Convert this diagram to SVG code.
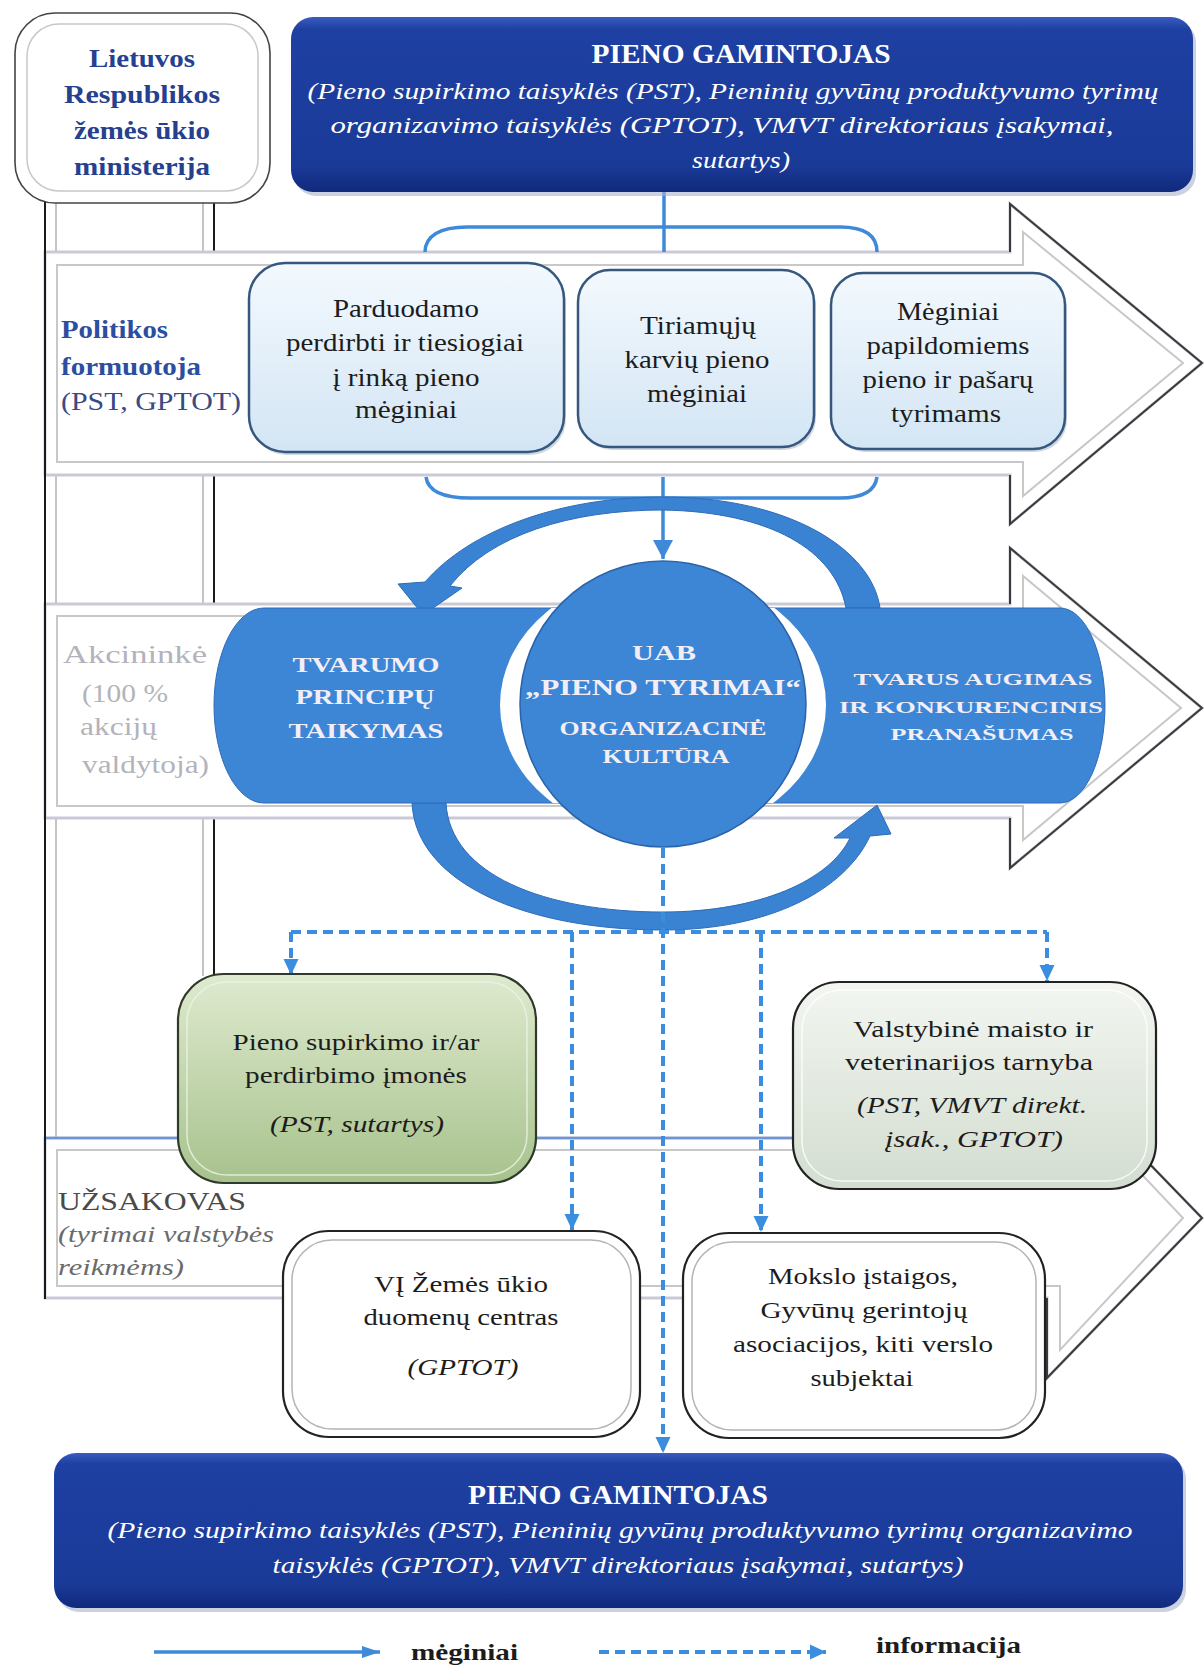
<svg xmlns="http://www.w3.org/2000/svg" width="1204" height="1667" viewBox="0 0 1204 1667">
<defs>
<style>
text{font-family:"Liberation Serif","Times New Roman",serif}
.b{font-weight:bold}
.i{font-style:italic}
.m{text-anchor:middle}
.dk{fill:#1c1c1c}
.w{fill:#ffffff}
.pt{fill:#f3eef6;font-weight:bold}
.lane{fill:#ffffff;stroke:#c9c9d8;stroke-width:3}
.head{fill:none;stroke:#3a3a3a;stroke-width:2}
.inner{fill:none;stroke:#c8c8c8;stroke-width:2}
.sol{fill:none;stroke:#3f8ad8;stroke-width:3.5}
.dsh{fill:none;stroke:#3b8de0;stroke-width:4;stroke-dasharray:10 6}
.blue{fill:#3d85d5}
.arc{fill:#3a83d3;stroke:#2d6bb8;stroke-width:1}
.lb{fill:url(#gLB);stroke:#36587f;stroke-width:2.5}
.wb{fill:#ffffff;stroke:#222222;stroke-width:2.2}
.wi{fill:none;stroke:#b4b4b4;stroke-width:1.5}
.col{stroke:#1a1a1a;stroke-width:2;fill:none}
.colg{stroke:#c4c4c4;stroke-width:2;fill:none}
</style>
<linearGradient id="gDark" x1="0" y1="0" x2="0" y2="1">
<stop offset="0" stop-color="#3a5cc0"/>
<stop offset="0.07" stop-color="#1e40a2"/>
<stop offset="0.85" stop-color="#1a3a98"/>
<stop offset="1" stop-color="#10297a"/>
</linearGradient>
<linearGradient id="gLB" x1="0" y1="0" x2="0" y2="1">
<stop offset="0" stop-color="#f3f9fe"/>
<stop offset="1" stop-color="#d3e5f4"/>
</linearGradient>
<linearGradient id="gGreen" x1="0" y1="0" x2="0" y2="1">
<stop offset="0" stop-color="#dfeacf"/>
<stop offset="1" stop-color="#a7c28d"/>
</linearGradient>
<linearGradient id="gVal" x1="0" y1="0" x2="0" y2="1">
<stop offset="0" stop-color="#f3f6f1"/>
<stop offset="1" stop-color="#d3ddd0"/>
</linearGradient>
<marker id="ah" markerUnits="userSpaceOnUse" markerWidth="18" markerHeight="18" viewBox="0 0 18 18" refX="16" refY="9" orient="auto">
<path d="M0,1.5 L16,9 L0,16.5 Z" fill="#3b8de0"/>
</marker>
<marker id="as" markerUnits="userSpaceOnUse" markerWidth="22" markerHeight="22" viewBox="0 0 22 22" refX="19" refY="11" orient="auto">
<path d="M0,1 L19,11 L0,21 Z" fill="#3f8ad8"/>
</marker>
<marker id="al" markerUnits="userSpaceOnUse" markerWidth="20" markerHeight="16" viewBox="0 0 20 16" refX="18" refY="8" orient="auto">
<path d="M0,2 L18,8 L0,14 Z" fill="#3f8ad8"/>
</marker>
<clipPath id="band"><rect x="200" y="608" width="920" height="195"/></clipPath>
</defs>

<rect x="0" y="0" width="1204" height="1667" fill="#ffffff"/>

<!-- column behind lanes -->
<g id="ministry-column">
<line class="col" x1="214" y1="195" x2="214" y2="976"/>
<line class="colg" x1="203" y1="195" x2="203" y2="976"/>
<line class="colg" x1="56" y1="195" x2="56" y2="1286"/>
</g>

<!-- lanes -->
<g id="lane-politikos">
<path class="lane" d="M45,252 L1010,252 L1010,204 L1202,363 L1010,524 L1010,475 L45,475 Z"/>
<path class="inner" d="M57,265 L1023,265 L1023,232 L1183,363 L1023,496 L1023,462 L57,462 Z"/>
<path class="head" d="M1010,252 L1010,204 L1202,363 L1010,524 L1010,475"/>
<text x="61" y="338" class="b" font-size="25" fill="#2b4ea0" textLength="107" lengthAdjust="spacingAndGlyphs">Politikos</text>
<text x="61" y="375" class="b" font-size="25" fill="#2b4ea0" textLength="140" lengthAdjust="spacingAndGlyphs">formuotoja</text>
<text x="61" y="410" font-size="25" fill="#3a4a82" textLength="180" lengthAdjust="spacingAndGlyphs">(PST, GPTOT)</text>
</g>

<g id="lane-akcininke">
<path class="lane" d="M45,604 L1010,604 L1010,548 L1202,708 L1010,868 L1010,818 L45,818 Z"/>
<path class="inner" d="M57,616 L1023,616 L1023,576 L1181,708 L1023,840 L1023,806 L57,806 Z"/>
<path class="head" d="M1010,604 L1010,548 L1202,708 L1010,868 L1010,818"/>
<text x="63" y="663" font-size="25" fill="#b3b3bb" textLength="144" lengthAdjust="spacingAndGlyphs">Akcininkė</text>
<text x="82" y="702" font-size="25" fill="#b3b3bb" textLength="86" lengthAdjust="spacingAndGlyphs">(100 %</text>
<text x="80" y="735" font-size="25" fill="#b3b3bb" textLength="77" lengthAdjust="spacingAndGlyphs">akcijų</text>
<text x="82" y="773" font-size="25" fill="#b3b3bb" textLength="127" lengthAdjust="spacingAndGlyphs">valdytoja)</text>
</g>

<g id="lane-uzsakovas">
<path class="lane" d="M45,1138 L1047,1138 L1047,1058 L1202,1218 L1047,1378 L1047,1298 L45,1298 Z"/>
<path class="inner" d="M57,1150 L1060,1150 L1060,1088 L1183,1218 L1060,1350 L1060,1286 L57,1286 Z"/>
<line x1="45" y1="1138" x2="1047" y2="1138" stroke="#6f95d6" stroke-width="2.5"/>
<path class="head" d="M1047,1138 L1047,1058 L1202,1218 L1047,1378 L1047,1298"/>
<text x="58" y="1210" font-size="25" fill="#4a4a4a" textLength="188" lengthAdjust="spacingAndGlyphs">UŽSAKOVAS</text>
<text x="58" y="1242" class="i" font-size="24" fill="#6a6a6a" textLength="216" lengthAdjust="spacingAndGlyphs">(tyrimai valstybės</text>
<text x="58" y="1275" class="i" font-size="24" fill="#6a6a6a" textLength="126" lengthAdjust="spacingAndGlyphs">reikmėms)</text>
</g>

<line class="col" x1="45" y1="195" x2="45" y2="1299"/>

<!-- connectors -->
<g id="connectors">
<line class="sol" x1="664" y1="192" x2="664" y2="252"/>
<path class="sol" d="M425,252 C425,236 440,227 467,227 L840,227 C865,227 877,236 877,252"/>
<path class="sol" d="M426,477 C428,492 445,498 470,498 L840,498 C862,498 875,492 877,477"/>
<line class="sol" x1="663" y1="477" x2="663" y2="559" marker-end="url(#as)"/>
<path class="arc" d="M880,608 C872,550 790,497 663,497 C560,497 470,530 425,582 L398,584 L423,615 L462,588 L450,586 C490,535 570,510 663,510 C770,512 835,550 846,608 Z"/>
<path class="arc" d="M412,803 C416,885 530,930 663,930 C770,930 845,890 870,836 L891,834 L877,805 L834,838 L850,838 C830,880 760,912 663,912 C545,912 450,875 446,803 Z"/>
<line class="dsh" x1="663" y1="848" x2="663" y2="1453" marker-end="url(#ah)"/>
<line class="dsh" x1="291" y1="932" x2="1047" y2="932"/>
<line class="dsh" x1="291" y1="932" x2="291" y2="975" marker-end="url(#ah)"/>
<line class="dsh" x1="1047" y1="932" x2="1047" y2="981" marker-end="url(#ah)"/>
<line class="dsh" x1="572" y1="932" x2="572" y2="1230" marker-end="url(#ah)"/>
<line class="dsh" x1="761" y1="932" x2="761" y2="1232" marker-end="url(#ah)"/>
</g>

<!-- nodes -->
<g id="ministerija">
<rect x="15" y="13" width="255" height="190" rx="40" fill="#ffffff" stroke="#444444" stroke-width="1.6"/>
<rect x="27" y="24" width="231" height="167" rx="32" fill="none" stroke="#c8c8c8" stroke-width="1.5"/>
<text x="142" y="67" class="b m" font-size="26" fill="#25408f" textLength="106" lengthAdjust="spacingAndGlyphs">Lietuvos</text>
<text x="142" y="103" class="b m" font-size="26" fill="#25408f" textLength="156" lengthAdjust="spacingAndGlyphs">Respublikos</text>
<text x="142" y="139" class="b m" font-size="26" fill="#25408f" textLength="136" lengthAdjust="spacingAndGlyphs">žemės ūkio</text>
<text x="142" y="175" class="b m" font-size="26" fill="#25408f" textLength="136" lengthAdjust="spacingAndGlyphs">ministerija</text>
</g>

<g id="pieno-gamintojas-top">
<rect x="294" y="21" width="902" height="175" rx="22" fill="#a9b2cc" opacity="0.6"/>
<rect x="291" y="17" width="902" height="175" rx="22" fill="url(#gDark)"/>
<text x="741" y="63" class="b m w" font-size="27" textLength="299" lengthAdjust="spacingAndGlyphs">PIENO GAMINTOJAS</text>
<text x="733" y="99" class="i m w" font-size="24" textLength="851" lengthAdjust="spacingAndGlyphs">(Pieno supirkimo taisyklės (PST), Pieninių gyvūnų produktyvumo tyrimų</text>
<text x="722" y="133" class="i m w" font-size="24" textLength="783" lengthAdjust="spacingAndGlyphs">organizavimo taisyklės (GPTOT), VMVT direktoriaus įsakymai,</text>
<text x="741" y="168" class="i m w" font-size="24" textLength="98" lengthAdjust="spacingAndGlyphs">sutartys)</text>
</g>

<g id="meginiai-parduodamo">
<rect x="251" y="266" width="315" height="189" rx="36" fill="#9fb0c4" opacity="0.5"/>
<rect class="lb" x="249" y="263" width="315" height="189" rx="36"/>
<text x="406" y="317" class="m dk" font-size="25" textLength="146" lengthAdjust="spacingAndGlyphs">Parduodamo</text>
<text x="405" y="351" class="m dk" font-size="25" textLength="238" lengthAdjust="spacingAndGlyphs">perdirbti ir tiesiogiai</text>
<text x="406" y="386" class="m dk" font-size="25" textLength="147" lengthAdjust="spacingAndGlyphs">į rinką pieno</text>
<text x="406" y="418" class="m dk" font-size="25" textLength="102" lengthAdjust="spacingAndGlyphs">mėginiai</text>
</g>

<g id="meginiai-tiriamuju">
<rect x="580" y="273" width="236" height="177" rx="32" fill="#9fb0c4" opacity="0.5"/>
<rect class="lb" x="578" y="270" width="236" height="177" rx="32"/>
<text x="698" y="334" class="m dk" font-size="25" textLength="116" lengthAdjust="spacingAndGlyphs">Tiriamųjų</text>
<text x="697" y="368" class="m dk" font-size="25" textLength="145" lengthAdjust="spacingAndGlyphs">karvių pieno</text>
<text x="697" y="402" class="m dk" font-size="25" textLength="100" lengthAdjust="spacingAndGlyphs">mėginiai</text>
</g>

<g id="meginiai-papildomiems">
<rect x="833" y="276" width="234" height="176" rx="32" fill="#9fb0c4" opacity="0.5"/>
<rect class="lb" x="831" y="273" width="234" height="176" rx="32"/>
<text x="948" y="320" class="m dk" font-size="25" textLength="102" lengthAdjust="spacingAndGlyphs">Mėginiai</text>
<text x="948" y="354" class="m dk" font-size="25" textLength="163" lengthAdjust="spacingAndGlyphs">papildomiems</text>
<text x="948" y="388" class="m dk" font-size="25" textLength="171" lengthAdjust="spacingAndGlyphs">pieno ir pašarų</text>
<text x="946" y="422" class="m dk" font-size="25" textLength="110" lengthAdjust="spacingAndGlyphs">tyrimams</text>
</g>

<g id="tvarumo-principu">
<path class="blue" d="M600,608 L264,608 A50,97.5 0 0 0 264,803 L600,803 Z" stroke="#2f6cb8" stroke-width="1"/>
<text x="366" y="672" class="pt m" font-size="20" textLength="147" lengthAdjust="spacingAndGlyphs">TVARUMO</text>
<text x="365" y="704" class="pt m" font-size="20" textLength="139" lengthAdjust="spacingAndGlyphs">PRINCIPŲ</text>
<text x="366" y="738" class="pt m" font-size="20" textLength="155" lengthAdjust="spacingAndGlyphs">TAIKYMAS</text>
</g>

<g id="tvarus-augimas">
<path class="blue" d="M730,608 L1060,608 A45,97.5 0 0 1 1060,803 L730,803 Z" stroke="#2f6cb8" stroke-width="1"/>
<text x="973" y="685" class="pt m" font-size="17" textLength="239" lengthAdjust="spacingAndGlyphs">TVARUS AUGIMAS</text>
<text x="971" y="713" class="pt m" font-size="17" textLength="264" lengthAdjust="spacingAndGlyphs">IR KONKURENCINIS</text>
<text x="982" y="740" class="pt m" font-size="17" textLength="183" lengthAdjust="spacingAndGlyphs">PRANAŠUMAS</text>
</g>

<g id="uab-pieno-tyrimai">
<ellipse cx="663" cy="705" rx="163" ry="133" fill="#ffffff" clip-path="url(#band)"/>
<circle cx="663" cy="704" r="143" fill="#3d85d5" stroke="#2a63a8" stroke-width="1.5"/>
<text x="664" y="660" class="pt m" font-size="22" textLength="64" lengthAdjust="spacingAndGlyphs">UAB</text>
<text x="663" y="695" class="pt m" font-size="23" textLength="276" lengthAdjust="spacingAndGlyphs">„PIENO TYRIMAI“</text>
<text x="663" y="735" class="pt m" font-size="18" textLength="207" lengthAdjust="spacingAndGlyphs">ORGANIZACINĖ</text>
<text x="666" y="763" class="pt m" font-size="18" textLength="127" lengthAdjust="spacingAndGlyphs">KULTŪRA</text>
</g>

<g id="supirkimo-imones">
<rect x="178" y="974" width="358" height="209" rx="46" fill="url(#gGreen)" stroke="#2f3a2a" stroke-width="2.2"/>
<rect x="187" y="982" width="340" height="193" rx="40" fill="none" stroke="#eef4e6" stroke-width="1.5" opacity="0.8"/>
<text x="356" y="1050" class="m dk" font-size="24" textLength="247" lengthAdjust="spacingAndGlyphs">Pieno supirkimo ir/ar</text>
<text x="356" y="1083" class="m dk" font-size="24" textLength="222" lengthAdjust="spacingAndGlyphs">perdirbimo įmonės</text>
<text x="357" y="1132" class="i m dk" font-size="24" textLength="174" lengthAdjust="spacingAndGlyphs">(PST, sutartys)</text>
</g>

<g id="vmvt">
<rect x="793" y="982" width="363" height="207" rx="46" fill="url(#gVal)" stroke="#222222" stroke-width="2.2"/>
<rect x="802" y="990" width="345" height="191" rx="40" fill="none" stroke="#ffffff" stroke-width="1.5" opacity="0.8"/>
<text x="973" y="1037" class="m dk" font-size="24" textLength="240" lengthAdjust="spacingAndGlyphs">Valstybinė maisto ir</text>
<text x="969" y="1070" class="m dk" font-size="24" textLength="248" lengthAdjust="spacingAndGlyphs">veterinarijos tarnyba</text>
<text x="972" y="1113" class="i m dk" font-size="24" textLength="230" lengthAdjust="spacingAndGlyphs">(PST, VMVT direkt.</text>
<text x="974" y="1147" class="i m dk" font-size="24" textLength="178" lengthAdjust="spacingAndGlyphs">įsak., GPTOT)</text>
</g>

<g id="vi-zudc">
<rect class="wb" x="283" y="1231" width="357" height="206" rx="46"/>
<rect class="wi" x="292" y="1240" width="339" height="189" rx="40"/>
<text x="461" y="1292" class="m dk" font-size="24" textLength="174" lengthAdjust="spacingAndGlyphs">VĮ Žemės ūkio</text>
<text x="461" y="1325" class="m dk" font-size="24" textLength="195" lengthAdjust="spacingAndGlyphs">duomenų centras</text>
<text x="463" y="1375" class="i m dk" font-size="24" textLength="111" lengthAdjust="spacingAndGlyphs">(GPTOT)</text>
</g>

<g id="mokslo-istaigos">
<rect class="wb" x="683" y="1233" width="362" height="205" rx="46"/>
<rect class="wi" x="692" y="1242" width="344" height="188" rx="40"/>
<text x="863" y="1284" class="m dk" font-size="24" textLength="190" lengthAdjust="spacingAndGlyphs">Mokslo įstaigos,</text>
<text x="864" y="1318" class="m dk" font-size="24" textLength="207" lengthAdjust="spacingAndGlyphs">Gyvūnų gerintojų</text>
<text x="863" y="1352" class="m dk" font-size="24" textLength="260" lengthAdjust="spacingAndGlyphs">asociacijos, kiti verslo</text>
<text x="862" y="1386" class="m dk" font-size="24" textLength="103" lengthAdjust="spacingAndGlyphs">subjektai</text>
</g>

<g id="pieno-gamintojas-bottom">
<rect x="57" y="1457" width="1129" height="155" rx="22" fill="#a9b2cc" opacity="0.6"/>
<rect x="54" y="1453" width="1129" height="155" rx="22" fill="url(#gDark)"/>
<text x="618" y="1504" class="b m w" font-size="27" textLength="300" lengthAdjust="spacingAndGlyphs">PIENO GAMINTOJAS</text>
<text x="620" y="1538" class="i m w" font-size="24" textLength="1025" lengthAdjust="spacingAndGlyphs">(Pieno supirkimo taisyklės (PST), Pieninių gyvūnų produktyvumo tyrimų organizavimo</text>
<text x="618" y="1573" class="i m w" font-size="24" textLength="691" lengthAdjust="spacingAndGlyphs">taisyklės (GPTOT), VMVT direktoriaus įsakymai, sutartys)</text>
</g>

<g id="legend">
<line class="sol" x1="154" y1="1652" x2="380" y2="1652" marker-end="url(#al)"/>
<text x="411" y="1660" class="b dk" font-size="24" textLength="107" lengthAdjust="spacingAndGlyphs">mėginiai</text>
<line class="dsh" x1="599" y1="1652" x2="826" y2="1652" marker-end="url(#ah)"/>
<text x="876" y="1653" class="b dk" font-size="24" textLength="145" lengthAdjust="spacingAndGlyphs">informacija</text>
</g>
</svg>
